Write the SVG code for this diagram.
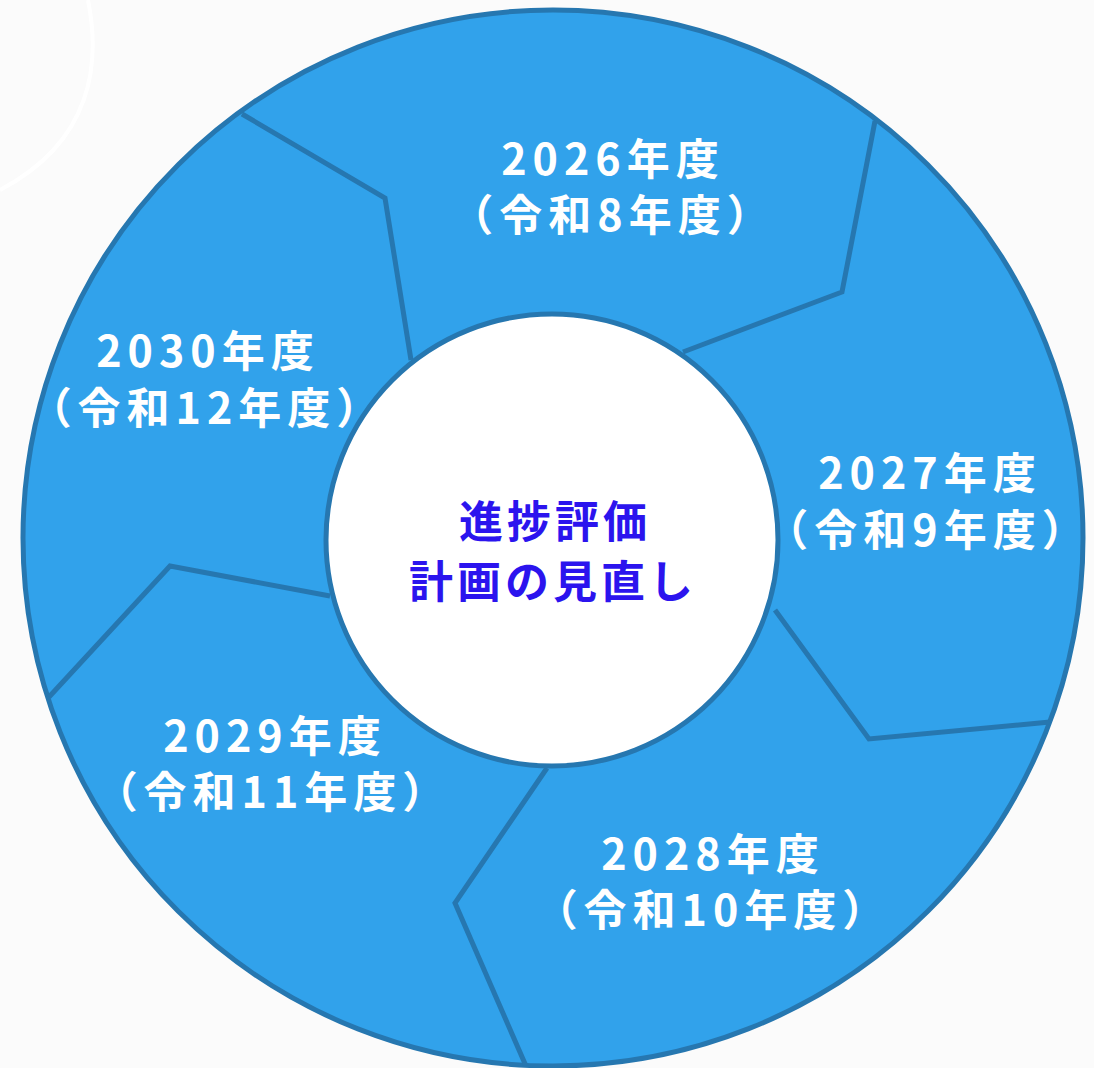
<svg xmlns="http://www.w3.org/2000/svg" width="1094" height="1068" viewBox="0 0 1094 1068">
<style>
.ring{fill:#31a2eb;stroke:#2677b0;stroke-width:5}
.hub{fill:#ffffff;stroke:#2677b0;stroke-width:5}
.div{fill:none;stroke:#2677b0;stroke-width:5;stroke-linejoin:miter}
.yr{font-family:"Noto Sans CJK JP","Noto Sans",sans-serif;font-size:43px;font-weight:600;fill:#ffffff;text-anchor:middle;letter-spacing:6px}
.ctr{font-family:"Noto Sans CJK JP","Noto Sans",sans-serif;font-size:44px;font-weight:700;fill:#2b14ee;text-anchor:middle;letter-spacing:4px}
</style>
<rect width="1094" height="1068" fill="#fbfbfb"/>
<path d="M88 0 C100 60 95 140 0 190" fill="none" stroke="#ffffff" stroke-width="4"/>
<g id="ring"><ellipse class="ring" cx="553" cy="538" rx="530" ry="528"/></g>
<g id="connectors">
<polyline class="div" points="242,114 385,198 411,360"/>
<polyline class="div" points="875,121 842,292 683,352"/>
<polyline class="div" points="775,610 869,739 1050,722"/>
<polyline class="div" points="547,768 455,903 526,1066"/>
<polyline class="div" points="330,596 170,566 49,697"/>
</g>
<g id="hub"><circle class="hub" cx="552" cy="540" r="226"/>
<text class="ctr" x="555" y="538">進捗評価</text>
<text class="ctr" x="553" y="598">計画の見直し</text></g>
<g id="y2026"><text class="yr" x="613" y="175">2026年度</text><text class="yr" x="613" y="231">（令和8年度）</text></g>
<g id="y2027"><text class="yr" x="930" y="489">2027年度</text><text class="yr" x="928" y="546">（令和9年度）</text></g>
<g id="y2028"><text class="yr" x="713" y="870">2028年度</text><text class="yr" x="713" y="926">（令和10年度）</text></g>
<g id="y2029"><text class="yr" x="275" y="752">2029年度</text><text class="yr" x="273" y="808">（令和11年度）</text></g>
<g id="y2030"><text class="yr" x="208" y="367">2030年度</text><text class="yr" x="207" y="424">（令和12年度）</text></g>
</svg>
